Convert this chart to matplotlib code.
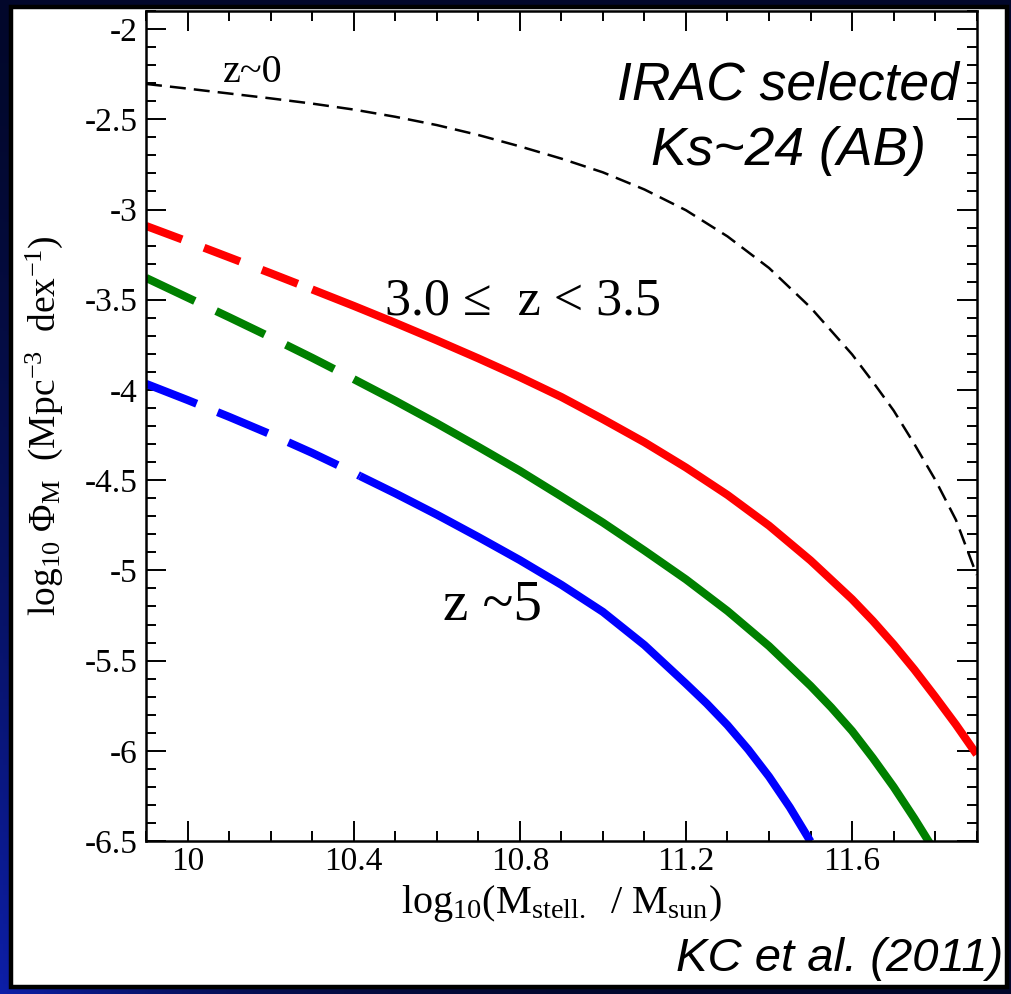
import numpy as np
import matplotlib
matplotlib.use('Agg')
import matplotlib.pyplot as plt
from matplotlib.patches import Rectangle
from matplotlib.ticker import FixedLocator, FixedFormatter, MultipleLocator

# stellar mass functions, log10(M/Msun) vs log10(Phi)
mass_z0 = [9.9, 10.0, 10.1, 10.2, 10.3, 10.4, 10.5, 10.6, 10.7, 10.8, 10.9,
           11.0, 11.1, 11.2, 11.3, 11.4, 11.5, 11.6, 11.65, 11.7, 11.75,
           11.8, 11.85, 11.9]
phi_z0 = [-2.304, -2.330, -2.357, -2.384, -2.413, -2.446, -2.486, -2.532,
          -2.587, -2.650, -2.718, -2.794, -2.889, -3.004, -3.149, -3.324,
          -3.543, -3.803, -3.955, -4.114, -4.30, -4.497, -4.72, -5.025]

mass_z3 = [9.9, 10.0, 10.1, 10.2, 10.3, 10.4, 10.5, 10.6, 10.7, 10.8, 10.9,
           11.0, 11.1, 11.2, 11.3, 11.4, 11.5, 11.6, 11.65, 11.7, 11.75,
           11.8, 11.85, 11.9]
phi_z3 = [-3.091, -3.177, -3.265, -3.353, -3.443, -3.534, -3.628, -3.725,
          -3.825, -3.929, -4.039, -4.162, -4.29, -4.43, -4.582, -4.752,
          -4.945, -5.16, -5.28, -5.41, -5.55, -5.70, -5.855, -6.02]

mass_z4 = [9.9, 10.0, 10.1, 10.2, 10.3, 10.4, 10.5, 10.6, 10.7, 10.8, 10.9,
           11.0, 11.1, 11.2, 11.3, 11.4, 11.5, 11.55, 11.6, 11.65, 11.7,
           11.75, 11.8]
phi_z4 = [-3.379, -3.488, -3.597, -3.708, -3.822, -3.94, -4.06, -4.185,
          -4.315, -4.448, -4.59, -4.735, -4.89, -5.05, -5.225, -5.42,
          -5.64, -5.76, -5.89, -6.04, -6.2, -6.375, -6.56]

mass_z5 = [9.9, 10.0, 10.1, 10.2, 10.3, 10.4, 10.415, 10.5, 10.6, 10.7, 10.8,
           10.9, 11.0, 11.1, 11.2, 11.25, 11.3, 11.35, 11.4, 11.45, 11.5]
phi_z5 = [-3.966, -4.056, -4.149, -4.246, -4.349, -4.459, -4.477, -4.573,
          -4.691, -4.815, -4.943, -5.08, -5.23, -5.414, -5.628, -5.738,
          -5.858, -5.993, -6.143, -6.313, -6.503]

# below these masses the fits are extrapolated (drawn dashed)
mass_limit_z3 = 10.3
mass_limit_z4 = 10.4
mass_limit_z5 = 10.415

x_ticks = [10.0, 10.4, 10.8, 11.2, 11.6]
x_tick_labels = ['10', '10.4', '10.8', '11.2', '11.6']
y_ticks = [-6.5, -6.0, -5.5, -5.0, -4.5, -4.0, -3.5, -3.0, -2.5, -2.0]
y_tick_labels = ['-6.5', '-6', '-5.5', '-5', '-4.5', '-4', '-3.5', '-3', '-2.5', '-2']

plt.rcParams['axes.unicode_minus'] = False
plt.rcParams['mathtext.fontset'] = 'custom'
plt.rcParams['mathtext.rm'] = 'Liberation Serif'
plt.rcParams['mathtext.it'] = 'Liberation Serif:italic'
plt.rcParams['mathtext.bf'] = 'Liberation Serif:bold'
plt.rcParams['font.family'] = ['Liberation Serif', 'DejaVu Serif']

fig = plt.figure(figsize=(10.12, 9.94), dpi=100)

# dark blue backdrop, brighter towards the lower left corner
bg = fig.add_axes([0, 0, 1, 1], zorder=-10)
gx, gy = np.meshgrid(np.linspace(0, 1, 300), np.linspace(0, 1, 300))
w = (gy ** 1.5 * (1 - gx) ** 4)[..., None]
dark = np.array([0.01, 0.03, 0.17])
blue = np.array([0.05, 0.12, 0.66])
bg.imshow(dark + (blue - dark) * w, extent=[0, 1, 0, 1], aspect='auto', origin='upper')
bg.add_patch(Rectangle((11 / 1012, 7 / 994), 996 / 1012, 980 / 994,
                       transform=fig.transFigure, facecolor='white',
                       edgecolor='black', linewidth=3.2))
bg.set_xlim(0, 1)
bg.set_ylim(0, 1)
bg.axis('off')

ax = fig.add_axes([0.1443, 0.1539, 0.8208, 0.835])


def split_curve(mass, phi, limit):
    m = np.array(mass)
    p = np.array(phi)
    lo = m <= limit + 1e-9
    hi = m >= limit - 1e-9
    return m[lo], p[lo], m[hi], p[hi]


lw = 5.8
curves = [
    (mass_z3, phi_z3, mass_limit_z3, 'red', (27.7, 16.9)),
    (mass_z4, phi_z4, mass_limit_z4, 'green', (38.9, 16.9)),
    (mass_z5, phi_z5, mass_limit_z5, 'blue', (39.2, 16.2)),
]
for mass, phi, limit, color, dash in curves:
    m_lo, p_lo, m_hi, p_hi = split_curve(mass, phi, limit)
    ax.plot(m_lo, p_lo, color=color, lw=lw, dashes=(dash[0] / lw, dash[1] / lw),
            dash_capstyle='butt')
    ax.plot(m_hi, p_hi, color=color, lw=lw, solid_capstyle='butt',
            solid_joinstyle='round')

ax.plot(mass_z0, phi_z0, color='black', lw=1.8, dashes=(11.5 / 1.8, 5.8 / 1.8))

ax.set_xlim(9.9, 11.9)
ax.set_ylim(-6.5, -1.9)
ax.xaxis.set_major_locator(FixedLocator(x_ticks))
ax.xaxis.set_major_formatter(FixedFormatter(x_tick_labels))
ax.xaxis.set_minor_locator(MultipleLocator(0.1))
ax.yaxis.set_major_locator(FixedLocator(y_ticks))
ax.yaxis.set_major_formatter(FixedFormatter(y_tick_labels))
ax.yaxis.set_minor_locator(MultipleLocator(0.1))
ax.tick_params(which='both', direction='in', top=True, right=True, width=1.4)
ax.tick_params(which='major', length=14.4, labelsize=24)
ax.tick_params(which='minor', length=7.2)
ax.tick_params(axis='x', pad=4)
ax.tick_params(axis='y', pad=6)
for sp in ax.spines.values():
    sp.set_linewidth(1.8)

ax.set_xlabel(r'log$_{10}$(M$_{\mathrm{stell.}}$  / M$_{\mathrm{sun}}$)', fontsize=29)
ax.xaxis.set_label_coords(0.5, -0.05)
ax.set_ylabel(r'log$_{10}$ $\Phi_{\mathrm{M}}$  (Mpc$^{-3}$  dex$^{-1}$)', fontsize=27)
ax.yaxis.set_label_coords(-0.097, 0.5)

ax.text(10.085, -2.293, 'z~0', fontsize=29, ha='left', va='baseline')
ax.text(10.475, -3.584, '3.0 \u2264  z < 3.5', fontsize=37.5, ha='left', va='baseline')
ax.text(10.615, -5.274, 'z ~5', fontsize=41, ha='left', va='baseline')

sans = ['Liberation Sans', 'DejaVu Sans']
ax.text(11.446, -2.393, 'IRAC selected', fontsize=38.5, style='italic',
        family=sans, ha='center', va='baseline')
ax.text(11.446, -2.753, 'Ks~24 (AB)', fontsize=38.5, style='italic',
        family=sans, ha='center', va='baseline')

fig.text(0.991, 0.0231, 'KC et al. (2011)', fontsize=34, style='italic',
         family=sans, ha='right', va='baseline')

fig.savefig('out.png', dpi=100)
